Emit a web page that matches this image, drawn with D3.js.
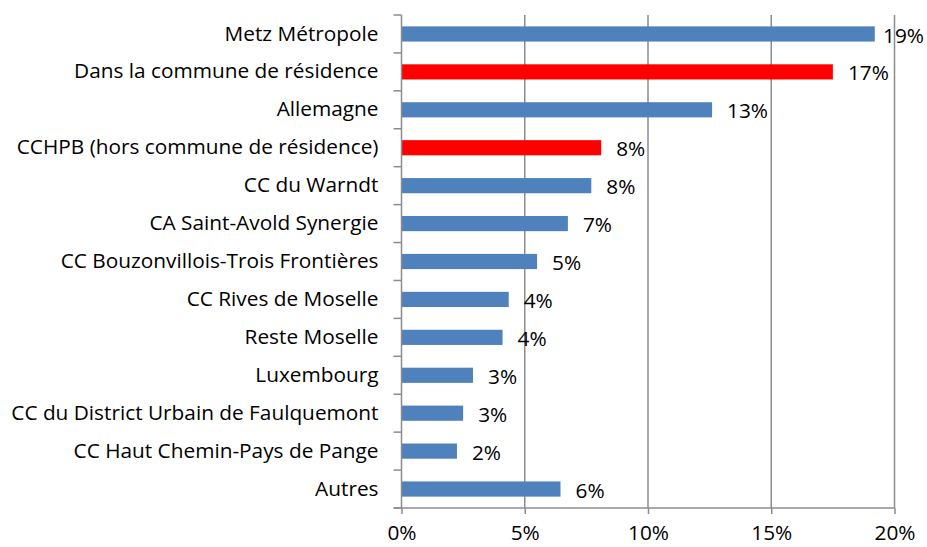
<!DOCTYPE html>
<html><head><meta charset="utf-8">
<script src="https://cdn.jsdelivr.net/npm/d3@7"></script>
<style>body{margin:0;background:#fff}svg{display:block}</style>
</head><body>
<script>
const categories = ["Metz Métropole","Dans la commune de résidence","Allemagne","CCHPB (hors commune de résidence)","CC du Warndt","CA Saint-Avold Synergie","CC Bouzonvillois-Trois Frontières","CC Rives de Moselle","Reste Moselle","Luxembourg","CC du District Urbain de Faulquemont","CC Haut Chemin-Pays de Pange","Autres"];
const values = [19.2,17.5,12.6,8.1,7.7,6.75,5.5,4.35,4.1,2.9,2.5,2.25,6.45];
const valueLabels = ["19%","17%","13%","8%","8%","7%","5%","4%","4%","3%","3%","2%","6%"];
const highlighted = ["Dans la commune de résidence","CCHPB (hors commune de résidence)"];
const xTicks = [0,5,10,15,20];

const W=927,H=547, L=401.5, R=894.5, T=15, B=508;
const font = "'Open Sans', sans-serif";
const fs = 20.8;
const svg=d3.select("body").append("svg").attr("width",W).attr("height",H);
const x=d3.scaleLinear().domain([0,20]).range([L,R]);
const y=d3.scaleBand().domain(categories).range([T,B]).paddingInner(0.6).paddingOuter(0.3);
const yb=d3.scaleBand().domain(categories).range([T,B]);
const grey="#8c8c8c";

// gridlines
svg.append("g").selectAll("line").data(xTicks.slice(1)).join("line")
  .attr("x1",d=>x(d)).attr("x2",d=>x(d)).attr("y1",T).attr("y2",B)
  .attr("stroke",grey).attr("stroke-width",1.5);

// bars
svg.append("g").selectAll("rect").data(categories).join("rect")
  .attr("x",x(0)).attr("y",d=>y(d)).attr("height",y.bandwidth())
  .attr("width",(d,i)=>x(values[i])-x(0))
  .attr("fill",d=>highlighted.includes(d)?"#ff0000":"#4f81bd");

// value labels
svg.append("g").selectAll("text").data(categories).join("text")
  .attr("x",(d,i)=>x(values[i])+15).attr("y",d=>y(d)+y.bandwidth()/2+3)
  .attr("dominant-baseline","middle").attr("font-family",font).attr("font-size",fs)
  .attr("fill","#000").text((d,i)=>valueLabels[i])
  .each(function(d,i){
    const w=this.getComputedTextLength();
    const x0=x(values[i])+15;
    if(x0+w>W-3) d3.select(this).attr("x",W-3-w);
  });

// y axis
const yAxis=svg.append("g").attr("transform",`translate(${L},0)`);
yAxis.append("line").attr("x1",0).attr("x2",0).attr("y1",T).attr("y2",B).attr("stroke",grey).attr("stroke-width",1.5);
const bounds=categories.map(c=>yb(c)).concat([B]);
yAxis.selectAll("line.t").data(bounds).join("line").attr("class","t")
  .attr("x1",-8).attr("x2",0).attr("y1",d=>d).attr("y2",d=>d).attr("stroke",grey).attr("stroke-width",1.5);
yAxis.selectAll("text").data(categories).join("text")
  .attr("x",-23).attr("y",d=>yb(d)+yb.bandwidth()/2+1)
  .attr("text-anchor","end").attr("dominant-baseline","middle")
  .attr("font-family",font).attr("font-size",fs).attr("fill","#000").text(d=>d);

// x axis
const xAxis=svg.append("g").attr("transform",`translate(0,${B})`)
  .call(d3.axisBottom(x).tickValues(xTicks).tickSize(6).tickSizeOuter(0).tickFormat(d=>d+"%"));
xAxis.select(".domain").attr("stroke",grey).attr("stroke-width",1.5).attr("d",`M${L-8},0H${R}`);
xAxis.selectAll(".tick line").attr("stroke",grey).attr("stroke-width",1.5);
xAxis.selectAll(".tick text").attr("font-family",font).attr("font-size",fs).attr("fill","#000").attr("y",26).attr("dy",0).attr("dominant-baseline","middle");
</script>
</body></html>
